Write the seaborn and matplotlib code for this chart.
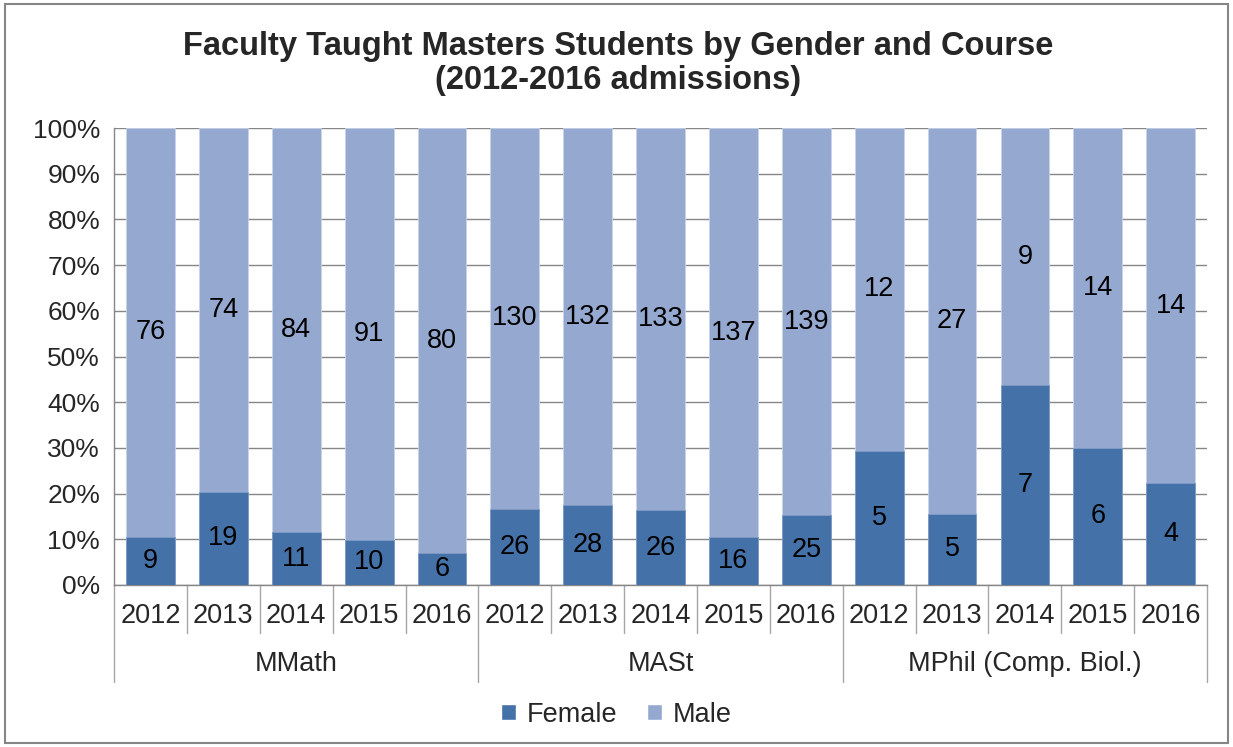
import numpy as np
import pandas as pd
import seaborn as sns
import matplotlib.pyplot as plt
from matplotlib.patches import Rectangle, Patch
from matplotlib.transforms import blended_transform_factory

## data (counts)
courses = ["MMath", "MASt", "MPhil (Comp. Biol.)"]
years = ["2012", "2013", "2014", "2015", "2016"]
female = [9, 19, 11, 10, 6, 26, 28, 26, 16, 25, 5, 5, 7, 6, 4]
male = [76, 74, 84, 91, 80, 130, 132, 133, 137, 139, 12, 27, 9, 14, 14]

c_female = "#4472A8"
c_male = "#95A9D0"

df = pd.DataFrame({
    "course": np.repeat(courses, len(years)),
    "year": years * len(courses),
    "female": female,
    "male": male,
})
df["key"] = df["course"] + " " + df["year"]
df["total"] = df["female"] + df["male"]
df["female_pct"] = df["female"] / df["total"] * 100
df["all_pct"] = 100.0

sns.set_style("white")
plt.rcParams["font.family"] = ["Liberation Sans", "DejaVu Sans"]

fs = 19.5
fig = plt.figure(figsize=(12.33, 7.47), dpi=100)
ax = fig.add_axes([0.0925, 0.2169, 0.8865, 0.6117])

order = list(df["key"])
sns.barplot(data=df, x="key", y="all_pct", order=order, color=c_male,
            width=0.67, saturation=1, edgecolor="#c8d4ea", linewidth=0.6, ax=ax, zorder=3)
sns.barplot(data=df, x="key", y="female_pct", order=order, color=c_female,
            width=0.67, saturation=1, edgecolor="#7f9cc4", linewidth=0.6, ax=ax, zorder=4)

## labels
for i, r in df.reset_index(drop=True).iterrows():
    ax.text(i, r["female_pct"] / 2, str(r["female"]), ha="center", va="center",
            fontsize=fs, color="black", zorder=5)
    ax.text(i, r["female_pct"] + (100 - r["female_pct"]) / 2, str(r["male"]),
            ha="center", va="center", fontsize=fs, color="black", zorder=5)

n = len(df)
ax.set_xlim(-0.5, n - 0.5)
ax.set_ylim(0, 100)
ax.set_yticks(np.arange(0, 101, 10))
ax.set_yticklabels([f"{v}%" for v in range(0, 101, 10)], fontsize=19)
ax.set_xticks(range(n))
ax.set_xticklabels(df["year"], fontsize=fs)
ax.tick_params(axis="x", length=0, pad=13)
ax.tick_params(axis="y", length=6, color="#868686", direction="out", pad=4)
ax.set_xlabel("")
ax.set_ylabel("")
ax.yaxis.grid(True, color="#868686", linewidth=1, zorder=0)
ax.set_axisbelow(True)
for s in ["top", "right"]:
    ax.spines[s].set_visible(False)
for s in ["left", "bottom"]:
    ax.spines[s].set_color("#868686")
    ax.spines[s].set_linewidth(1)

## multi-level category axis
tr = blended_transform_factory(ax.transData, ax.transAxes)
ax_h = 457.0
for k in range(n + 1):
    x = k - 0.5
    if k % len(years) == 0:
        ax.plot([x, x], [0, -97 / ax_h], transform=tr, color="#a6a6a6", lw=1, clip_on=False)
    else:
        ax.plot([x, x], [0, -48 / ax_h], transform=tr, color="#a6a6a6", lw=1, clip_on=False)
for g, name in enumerate(courses):
    xc = g * len(years) + (len(years) - 1) / 2
    ax.text(xc, -79 / ax_h, name, transform=tr, ha="center", va="center", fontsize=fs)

fig.suptitle("Faculty Taught Masters Students by Gender and Course\n(2012-2016 admissions)",
             x=0.501, y=0.958, fontsize=23.5, fontweight="bold", linespacing=1.1)

handles = [Patch(facecolor=c_female, label="Female"), Patch(facecolor=c_male, label="Male")]
fig.legend(handles=handles, loc="center", bbox_to_anchor=(0.5, 0.043), ncol=2, frameon=False,
           fontsize=fs, handlelength=0.55, handleheight=0.55, handletextpad=0.4, columnspacing=1.1)

fig.patches.append(Rectangle((0.004, 0.005), 0.992, 0.99, transform=fig.transFigure,
                             fill=False, edgecolor="#868686", linewidth=1.5))

fig.savefig("out.png", dpi=100)
